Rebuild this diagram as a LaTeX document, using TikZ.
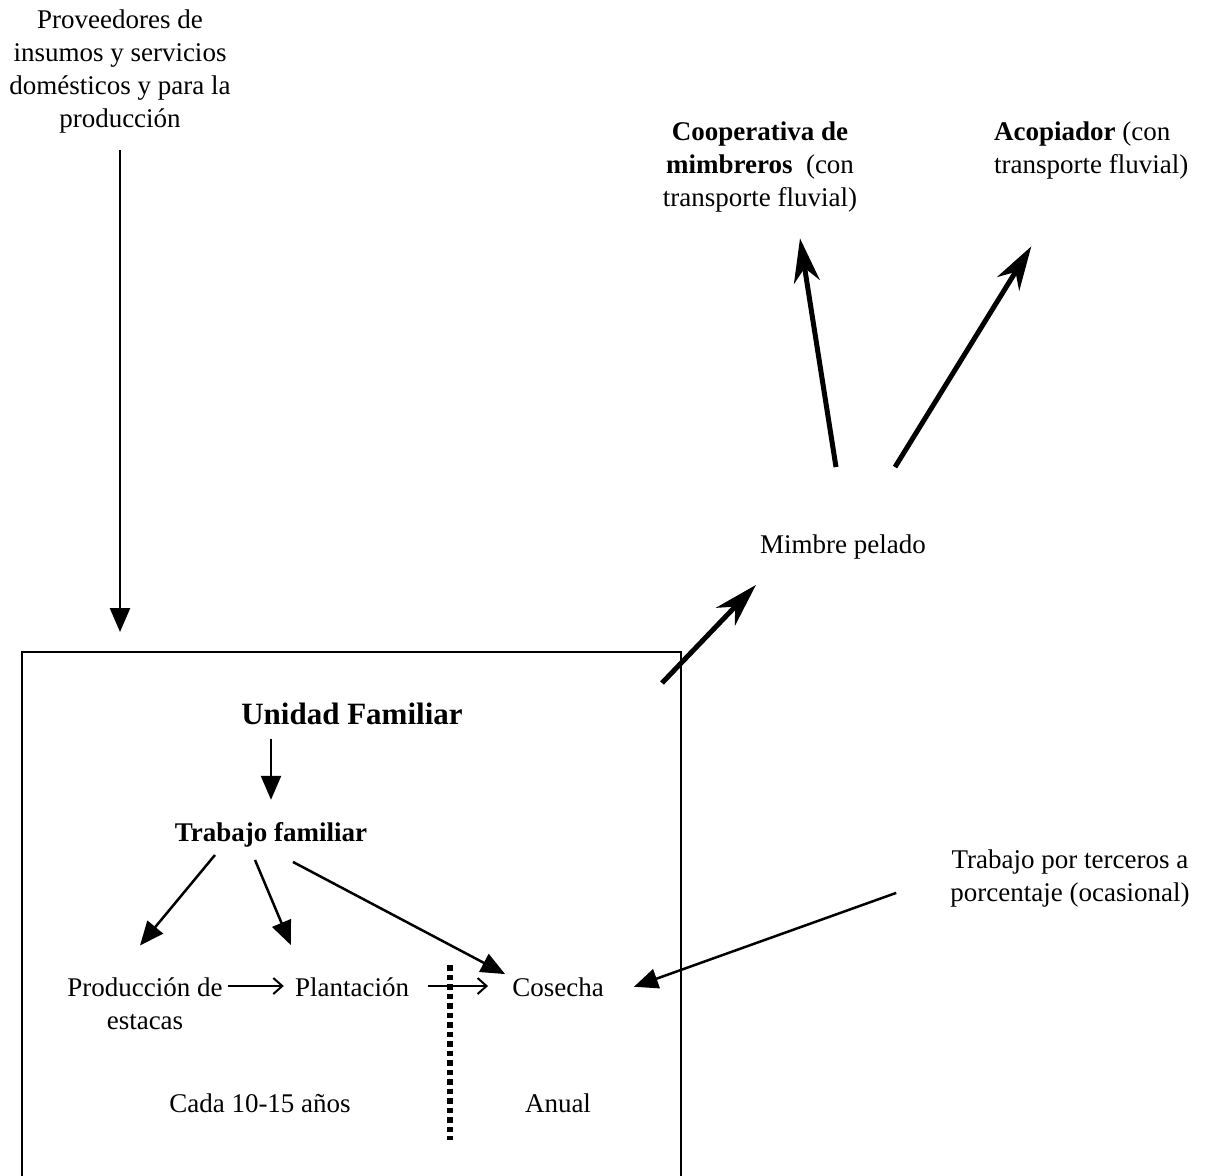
\documentclass[tikz,border=0pt]{standalone}
\usepackage{fontspec}
\setmainfont{Liberation Serif}
\usetikzlibrary{arrows.meta}

\begin{document}
\begin{tikzpicture}[x=1pt,y=1pt,
    txt/.style={inner sep=0pt,font=\fontsize{27}{33}\selectfont},
    arr/.style={line width=2.5pt,-{Triangle[length=24pt,width=20pt]}},
    sarr/.style={line width=2pt,-{Straight Barb[length=9pt,width=16pt]}},
    fat/.style={line width=5pt,-{Stealth[length=44pt,width=26pt,inset=14pt]}}]%
    \useasboundingbox (0,0) rectangle (1207,-1175);%
    % outside the household
    \node[txt,anchor=north,align=center] (prov) at (120,-9.5) {Proveedores de\\insumos y servicios\\domésticos y para la\\producción};%
    \node[txt,anchor=north,align=center] (coop) at (760,-121.5) {\textbf{Cooperativa de}\\\textbf{mimbreros}\ \ (con\\transporte fluvial)};%
    \node[txt,anchor=north west,align=left] (acop) at (994,-121.5) {\textbf{Acopiador} (con\\transporte fluvial)};%
    \node[txt,anchor=base] (mimbre) at (843,-553) {Mimbre pelado};%
    \node[txt,anchor=north,align=center] (terc) at (1070,-850) {Trabajo por terceros a\\porcentaje (ocasional)};%
    % inside the household
    \node[inner sep=0pt,anchor=base,font=\fontsize{31}{37}\selectfont\bfseries] (unidad) at (352,-724) {Unidad Familiar};%
    \node[txt,anchor=base,font=\fontsize{27}{33}\selectfont\bfseries] (trab) at (271,-841) {Trabajo familiar};%
    \node[txt,anchor=north,align=center] (prodest) at (145,-977.5) {Producción de\\estacas};%
    \node[txt,anchor=base] (plant) at (352,-996) {Plantación};%
    \node[txt,anchor=base] (cosecha) at (558,-996) {Cosecha};%
    \node[txt,anchor=base] (cada) at (260,-1112) {Cada 10-15 años};%
    \node[txt,anchor=base] (anual) at (558,-1112) {Anual};%
    % box
    \coordinate (boxnw) at (22,-652);%
    \coordinate (boxne) at (681,-652);%
    \draw[line width=2.8pt] (22,-1180) -- (boxnw) -- (boxne) -- (681,-1180);%
    \draw[line width=6pt,dash pattern=on 5.5pt off 4pt] (450,-965) -- (450,-1140);%
    % arrows
    \draw[arr,shorten <=17pt,shorten >=20pt] (prov.south) -- (prov.south |- boxnw);%
    \draw[arr,shorten <=14pt,shorten >=22pt] (unidad.south -| trab.north) -- (trab.north);%
    \draw[arr] ([xshift=-56pt,yshift=-8pt]trab.south) -- ([xshift=-5pt,yshift=32pt]prodest.north);%
    \draw[arr] ([xshift=-16pt,yshift=-13pt]trab.south) -- ([xshift=-4pt,yshift=32pt]plant.north west);%
    \draw[arr] ([xshift=22pt,yshift=-15pt]trab.south) -- ([xshift=-7pt,yshift=3pt]cosecha.north west);%
    \coordinate (row) at ([yshift=10pt]plant.base);%
    \draw[sarr,shorten <=5pt,shorten >=11pt] (prodest.east |- row) -- (plant.west |- row);%
    \draw[sarr,shorten <=19pt,shorten >=24pt] (plant.east |- row) -- (cosecha.west |- row);%
    \draw[arr] ([xshift=-54pt,yshift=15pt]terc.south west) -- ([xshift=30pt]cosecha.east);%
    \draw[fat] ([xshift=-19pt,yshift=-31pt]boxne) -- ([xshift=-4pt,yshift=-26pt]mimbre.south west);%
    \draw[fat] ([xshift=-7pt,yshift=67pt]mimbre.north) -- ([xshift=40pt,yshift=-26pt]coop.south);%
    \draw[fat] ([xshift=52pt,yshift=67pt]mimbre.north) -- ([xshift=-60pt,yshift=-67pt]acop.south);%
\end{tikzpicture}
\end{document}
